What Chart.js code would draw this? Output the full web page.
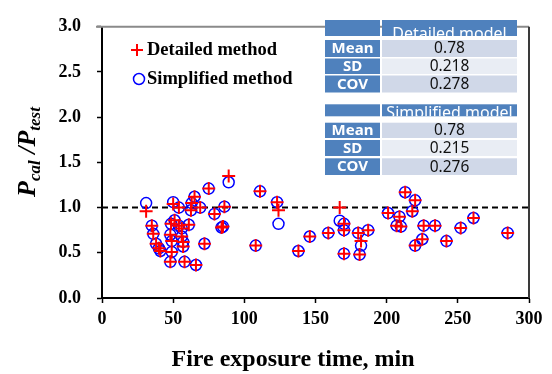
<!DOCTYPE html>
<html><head><meta charset="utf-8">
<script src="https://cdn.jsdelivr.net/npm/chart.js@4/dist/chart.umd.min.js"></script>
<style>html,body{margin:0;padding:0;background:#fff;}canvas{display:block;}</style>
</head><body>
<canvas id="c" width="552" height="374"></canvas>
<script>
// ---- data ----
const exposureTime   = [31, 35, 36, 38, 40, 41, 48, 48, 49, 49, 48.5, 50, 51, 54, 54, 56, 56, 57, 57, 58, 61, 63, 62.5, 65, 69, 66, 72, 75, 79, 84, 85, 86, 89, 108, 111, 123, 124, 138, 146, 159, 167, 170, 170, 170, 180, 182, 181, 187, 201, 209, 207, 210, 213, 220, 218, 226, 225, 220, 234, 242, 252, 261, 285];
const detailedRatio  = [0.96, 0.80, 0.71, 0.60, 0.55, 0.52, 0.40, 0.70, 0.63, 0.51, 0.82, 1.04, 0.86, 0.80, 1.00, 0.77, 0.68, 0.62, 0.57, 0.40, 0.81, 1.05, 0.97, 1.12, 1.00, 0.365, 0.60, 1.21, 0.93, 0.78, 0.79, 1.01, 1.35, 0.58, 1.18, 1.06, 0.97, 0.52, 0.68, 0.72, 1.00, 0.82, 0.75, 0.49, 0.72, 0.63, 0.48, 0.75, 0.94, 0.90, 0.80, 0.79, 1.17, 1.08, 0.96, 0.80, 0.65, 0.58, 0.80, 0.63, 0.775, 0.885, 0.72];
const simplifiedRatio= [1.05, 0.80, 0.71, 0.60, 0.55, 0.52, 0.40, 0.70, 0.63, 0.51, 0.82, 1.06, 0.86, 0.80, 1.00, 0.77, 0.68, 0.62, 0.57, 0.40, 0.81, 1.05, 0.97, 1.12, 1.00, 0.365, 0.60, 1.21, 0.93, 0.78, 0.79, 1.01, 1.28, 0.58, 1.18, 1.06, 0.82, 0.52, 0.68, 0.72, 0.855, 0.82, 0.75, 0.49, 0.72, 0.58, 0.48, 0.75, 0.94, 0.90, 0.80, 0.79, 1.17, 1.08, 0.96, 0.80, 0.65, 0.58, 0.80, 0.63, 0.775, 0.885, 0.72];
const xTicks = [0, 50, 100, 150, 200, 250, 300];
const yTicks = [0, 0.5, 1.0, 1.5, 2.0, 2.5, 3.0];
const refLineX = [0, 300];
const refLineY = [1, 1];
const seriesLabels = ['Detailed method', 'Simplified method'];
const tableModels = ['Detailed model', 'Simplified model'];
const tableStats = ['Mean', 'SD', 'COV'];
const detailedStats = ['0.78', '0.218', '0.278'];
const simplifiedStats = ['0.78', '0.215', '0.276'];
const xTitle = 'Fire exposure time, min';
const yTitleParts = [['P', 'cal'], [' /P', 'test']];

const SERIF = '"Liberation Serif", "Times New Roman", serif';
const SANS = '"Noto Sans", "Open Sans", sans-serif';

const decor = {
  id: 'decor',
  afterDraw(chart) {
    const ctx = chart.ctx, a = chart.chartArea;
    ctx.save();
    // frame: top (gray) and right (dark)
    ctx.lineWidth = 2;
    ctx.strokeStyle = '#8a8a8a';
    ctx.beginPath(); ctx.moveTo(a.left - 6, a.top); ctx.lineTo(a.right, a.top); ctx.stroke();
    ctx.strokeStyle = '#3a3a3a';
    ctx.beginPath(); ctx.moveTo(a.right, a.top); ctx.lineTo(a.right, a.bottom); ctx.stroke();

    // legend
    const ds = chart.data.datasets;
    ctx.font = 'bold 18.5px ' + SERIF;
    ctx.fillStyle = '#000';
    ctx.textBaseline = 'middle';
    ctx.textAlign = 'left';
    const legY = [50, 79];
    ctx.strokeStyle = ds[0].borderColor; ctx.lineWidth = 2;
    ctx.beginPath(); ctx.moveTo(131, legY[0]); ctx.lineTo(143, legY[0]); ctx.moveTo(137, legY[0]-6); ctx.lineTo(137, legY[0]+6); ctx.stroke();
    ctx.fillText(ds[0].label, 147, legY[0]);
    ctx.strokeStyle = ds[1].borderColor; ctx.lineWidth = 1.5;
    ctx.beginPath(); ctx.arc(139, legY[1], 5.5, 0, Math.PI*2); ctx.stroke();
    ctx.fillText(ds[1].label, 147, legY[1]);

    // table
    const c1 = [325, 380], c2 = [382, 517];
    const blocks = [
      {head:[20, 36], rows:[[40, 57],[58.5, 74],[75.5, 92.5]], vals: detailedStats, base: 38.5},
      {head:[104.3, 116.3], rows:[[122.7, 138],[140, 156],[158.3, 175]], vals: simplifiedStats, base: 118}
    ];
    const rowCol = ['#d0d8e8', '#e9edf4', '#d0d8e8'];
    blocks.forEach((b, bi) => {
      ctx.fillStyle = '#4f81bd';
      ctx.fillRect(c1[0], b.head[0], c1[1]-c1[0], b.head[1]-b.head[0]);
      ctx.fillRect(c2[0], b.head[0], c2[1]-c2[0], b.head[1]-b.head[0]);
      ctx.save();
      ctx.beginPath(); ctx.rect(c2[0], b.head[0], c2[1]-c2[0], b.head[1]-b.head[0]); ctx.clip();
      ctx.fillStyle = '#fff'; ctx.font = '16px ' + SANS; ctx.textAlign = 'center'; ctx.textBaseline = 'alphabetic';
      ctx.fillText(tableModels[bi], (c2[0]+c2[1])/2, b.base);
      ctx.restore();
      b.rows.forEach((r, ri) => {
        ctx.fillStyle = '#4f81bd';
        ctx.fillRect(c1[0], r[0], c1[1]-c1[0], r[1]-r[0]);
        ctx.fillStyle = rowCol[ri];
        ctx.fillRect(c2[0], r[0], c2[1]-c2[0], r[1]-r[0]);
        ctx.textAlign = 'center'; ctx.textBaseline = 'middle';
        ctx.fillStyle = '#fff'; ctx.font = 'bold 15px ' + SANS;
        ctx.fillText(tableStats[ri], (c1[0]+c1[1])/2, (r[0]+r[1])/2 + 0.5);
        ctx.fillStyle = '#111'; ctx.font = '15.5px ' + SANS;
        ctx.fillText(b.vals[ri], (c2[0]+c2[1])/2, (r[0]+r[1])/2 + 0.5);
      });
    });

    // y title with subscripts
    const bigF = 'italic bold 26px ' + SERIF, subF = 'italic bold 17px ' + SERIF;
    let total = 0;
    yTitleParts.forEach(p => { ctx.font = bigF; total += ctx.measureText(p[0]).width; ctx.font = subF; total += ctx.measureText(p[1]).width; });
    ctx.save();
    ctx.translate(35, 152 + total/2);
    ctx.rotate(-Math.PI/2);
    ctx.textAlign = 'left'; ctx.textBaseline = 'alphabetic'; ctx.fillStyle = '#000';
    let xx = 0;
    yTitleParts.forEach(p => {
      ctx.font = bigF; ctx.fillText(p[0], xx, 0); xx += ctx.measureText(p[0]).width;
      ctx.font = subF; ctx.fillText(p[1], xx, 5); xx += ctx.measureText(p[1]).width;
    });
    ctx.restore();

    // x title
    ctx.font = 'bold 24px ' + SERIF; ctx.fillStyle = '#000';
    ctx.textAlign = 'center'; ctx.textBaseline = 'middle';
    ctx.fillText(xTitle, 293, 360);
    ctx.restore();
  }
};

new Chart(document.getElementById('c'), {
  type: 'scatter',
  data: {
    datasets: [
      { label: seriesLabels[0], data: exposureTime.map((x, i) => ({x, y: detailedRatio[i]})),
        pointStyle: 'cross', pointRadius: 6.5, borderColor: '#ff0000', backgroundColor: 'rgba(0,0,0,0)', borderWidth: 2, order: 0 },
      { label: seriesLabels[1], data: exposureTime.map((x, i) => ({x, y: simplifiedRatio[i]})),
        pointStyle: 'circle', pointRadius: 5.5, borderColor: '#0000ff', backgroundColor: 'rgba(0,0,0,0)', borderWidth: 1.5, order: 1 },
      { type: 'line', label: 'ref', data: refLineX.map((x, i) => ({x, y: refLineY[i]})),
        borderColor: '#000', borderWidth: 2, borderDash: [6, 4], pointRadius: 0, fill: false, order: 2 }
    ]
  },
  options: {
    responsive: false, animation: false, devicePixelRatio: 1,
    layout: { padding: { top: 15, right: 23, left: 0, bottom: 0 } },
    plugins: { legend: { display: false }, tooltip: { enabled: false } },
    scales: {
      x: { type: 'linear', min: 0, max: 300,
        afterBuildTicks: s => { s.ticks = xTicks.map(v => ({value: v})); },
        afterFit: s => { s.height = 76; },
        grid: { drawOnChartArea: false, drawTicks: true, tickLength: 5, tickColor: '#000', tickWidth: 1.5 },
        border: { color: '#000', width: 2 },
        ticks: { color: '#000', padding: 6, maxRotation: 0, font: { family: SERIF, size: 18, weight: 'bold' } } },
      y: { min: 0, max: 3,
        afterBuildTicks: s => { s.ticks = yTicks.map(v => ({value: v})); },
        afterFit: s => { s.width = 102; },
        grid: { drawOnChartArea: false, drawTicks: true, tickLength: 5, tickColor: '#000', tickWidth: 1.5 },
        border: { color: '#000', width: 2 },
        ticks: { color: '#000', padding: 16, callback: v => Number(v).toFixed(1), font: { family: SERIF, size: 18, weight: 'bold' } } }
    }
  },
  plugins: [decor]
});
</script>
</body></html>
